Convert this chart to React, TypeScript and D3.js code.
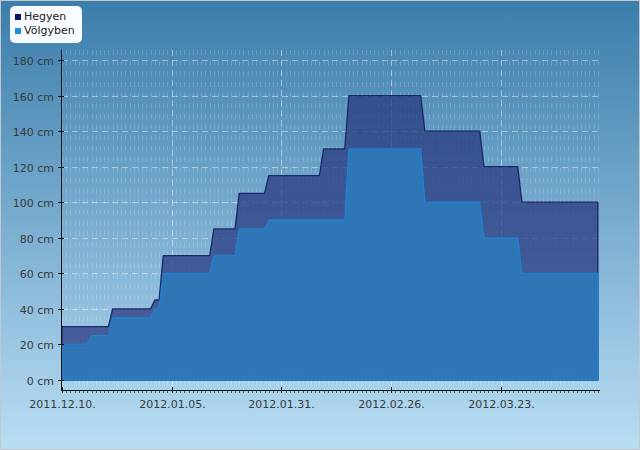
import { useRef, useEffect } from "react";
import * as d3 from "d3";

// observation dates and snow depth (cm)
const dates = [
  "2011-12-10", "2011-12-16", "2011-12-17", "2011-12-21", "2011-12-22", "2011-12-31",
  "2012-01-01", "2012-01-02", "2012-01-03", "2012-01-14", "2012-01-15", "2012-01-20",
  "2012-01-21", "2012-01-27", "2012-01-28", "2012-02-09", "2012-02-10", "2012-02-15",
  "2012-02-16", "2012-03-04", "2012-03-05", "2012-03-18", "2012-03-19", "2012-03-27",
  "2012-03-28", "2012-04-15",
];
const hegyen = [30, 30, 30, 30, 40, 40, 45, 45, 70, 70, 85, 85, 105, 105, 115, 115, 130, 130, 160, 160, 140, 140, 120, 120, 100, 100];
const volgyben = [20, 20, 25, 25, 35, 35, 40, 40, 60, 60, 70, 70, 85, 85, 90, 90, 90, 90, 130, 130, 100, 100, 80, 80, 60, 60];

const xTicks = ["2011-12-10", "2012-01-05", "2012-01-31", "2012-02-26", "2012-03-23"];
const yTicks = [0, 20, 40, 60, 80, 100, 120, 140, 160, 180];

const series = [
  { name: "Hegyen", values: hegyen, fill: "#2a3a80", opacity: 0.75, stroke: "#1b2766", legend: "#0d1566" },
  { name: "Völgyben", values: volgyben, fill: "#2e78b9", opacity: 0.93, stroke: "#1f82d2", legend: "#1e90e0" },
];

export default function App() {
  const svgRef = useRef<SVGSVGElement>(null);

  useEffect(() => {
    if (!svgRef.current) return;
    const width = 640;
    const height = 450;
    const svg = d3.select(svgRef.current);
    svg.selectAll("*").remove();

    const parse = d3.utcParse("%Y-%m-%d");
    const fmt = d3.utcFormat("%Y.%m.%d.");
    const start = parse(dates[0])!;
    const end = d3.utcHour.offset(parse(dates[dates.length - 1])!, 12);

    const x = d3.scaleUtc().domain([start, end]).range([62, 600]);
    const y = d3.scaleLinear().domain([0, 180]).range([380, 60]);
    const yBottom = y(-5.625);
    const yTop = y(185.625);

    const defs = svg.append("defs");
    const bg = defs.append("linearGradient").attr("id", "bgGrad").attr("x1", 0).attr("y1", 0).attr("x2", 0).attr("y2", 1);
    bg.append("stop").attr("offset", "0%").attr("stop-color", "#3b7dab");
    bg.append("stop").attr("offset", "100%").attr("stop-color", "#b9def4");

    svg.append("rect").attr("width", width).attr("height", height).attr("fill", "url(#bgGrad)");
    svg.append("rect")
      .attr("x", 0.5).attr("y", 0.5).attr("width", width - 1).attr("height", height - 1)
      .attr("fill", "none").attr("stroke", "#c4c8cc");

    // minor grid (daily)
    const days = d3.utcDay.range(start, end);
    svg.append("g")
      .selectAll("line")
      .data(days)
      .join("line")
      .attr("x1", (d) => Math.round(x(d)) + 0.5)
      .attr("x2", (d) => Math.round(x(d)) + 0.5)
      .attr("y1", yTop)
      .attr("y2", yBottom)
      .attr("stroke", "#ffffff")
      .attr("stroke-opacity", 0.17)
      .attr("stroke-dasharray", "5,5.67");

    // major grid
    svg.append("g")
      .selectAll("line")
      .data(yTicks.slice(1))
      .join("line")
      .attr("x1", 62).attr("x2", 600)
      .attr("y1", (d) => Math.round(y(d)) + 0.5)
      .attr("y2", (d) => Math.round(y(d)) + 0.5)
      .attr("stroke", "#ffffff").attr("stroke-opacity", 0.42)
      .attr("stroke-dasharray", "6,4");

    svg.append("g")
      .selectAll("line")
      .data(xTicks.slice(1))
      .join("line")
      .attr("x1", (d) => Math.round(x(parse(d)!)) + 0.5)
      .attr("x2", (d) => Math.round(x(parse(d)!)) + 0.5)
      .attr("y1", yTop).attr("y2", yBottom)
      .attr("stroke", "#ffffff").attr("stroke-opacity", 0.42)
      .attr("stroke-dasharray", "6,4");

    // areas
    const area = d3.area<number>()
      .x((_, i) => x(parse(dates[i])!))
      .y0(y(0))
      .y1((d) => y(d));

    series.forEach((s) => {
      svg.append("path")
        .datum(s.values)
        .attr("d", area)
        .attr("fill", s.fill)
        .attr("fill-opacity", s.opacity)
        .attr("stroke", s.stroke)
        .attr("stroke-width", 1.3)
        .attr("stroke-linejoin", "round");
    });

    // axes
    const axisColor = "#111";
    svg.append("line").attr("x1", 61.5).attr("x2", 61.5).attr("y1", yTop).attr("y2", yBottom + 0.5).attr("stroke", axisColor);
    svg.append("line").attr("x1", 61).attr("x2", 600).attr("y1", yBottom + 0.5).attr("y2", yBottom + 0.5).attr("stroke", axisColor);

    const yg = svg.append("g");
    yTicks.forEach((t) => {
      const yy = Math.round(y(t)) + 0.5;
      yg.append("line").attr("x1", 58).attr("x2", 64).attr("y1", yy).attr("y2", yy).attr("stroke", axisColor);
      yg.append("text")
        .attr("x", 54).attr("y", yy + 4)
        .attr("text-anchor", "end")
        .attr("font-family", "DejaVu Sans")
        .attr("font-size", 11)
        .attr("fill", "#3a3a3a")
        .text(`${t} cm`);
    });

    const xg = svg.append("g");
    days.forEach((d) => {
      const xx = Math.round(x(d)) + 0.5;
      xg.append("line").attr("x1", xx).attr("x2", xx).attr("y1", yBottom).attr("y2", yBottom + 3).attr("stroke", axisColor).attr("stroke-opacity", 0.6);
    });
    xTicks.forEach((t) => {
      const d = parse(t)!;
      const xx = Math.round(x(d)) + 0.5;
      xg.append("line").attr("x1", xx).attr("x2", xx).attr("y1", yBottom - 3).attr("y2", yBottom + 3).attr("stroke", axisColor);
      xg.append("text")
        .attr("x", xx).attr("y", 408)
        .attr("text-anchor", "middle")
        .attr("font-family", "DejaVu Sans")
        .attr("font-size", 11)
        .attr("fill", "#3a3a3a")
        .text(fmt(d));
    });

    // legend
    const lg = svg.append("g");
    lg.append("rect").attr("x", 10).attr("y", 6).attr("width", 72).attr("height", 37).attr("rx", 5).attr("fill", "#f7fbff");
    series.forEach((s, i) => {
      lg.append("rect").attr("x", 15).attr("y", 14 + i * 14).attr("width", 6).attr("height", 6).attr("fill", s.legend);
      lg.append("text")
        .attr("x", 24).attr("y", 20 + i * 14)
        .attr("font-family", "DejaVu Sans")
        .attr("font-size", 11)
        .attr("fill", "#222")
        .text(s.name);
    });
  }, []);

  return (
    <div style={{ position: "absolute", left: 0, top: 0 }}>
      <svg ref={svgRef} width={640} height={450} style={{ display: "block" }} />
    </div>
  );
}
